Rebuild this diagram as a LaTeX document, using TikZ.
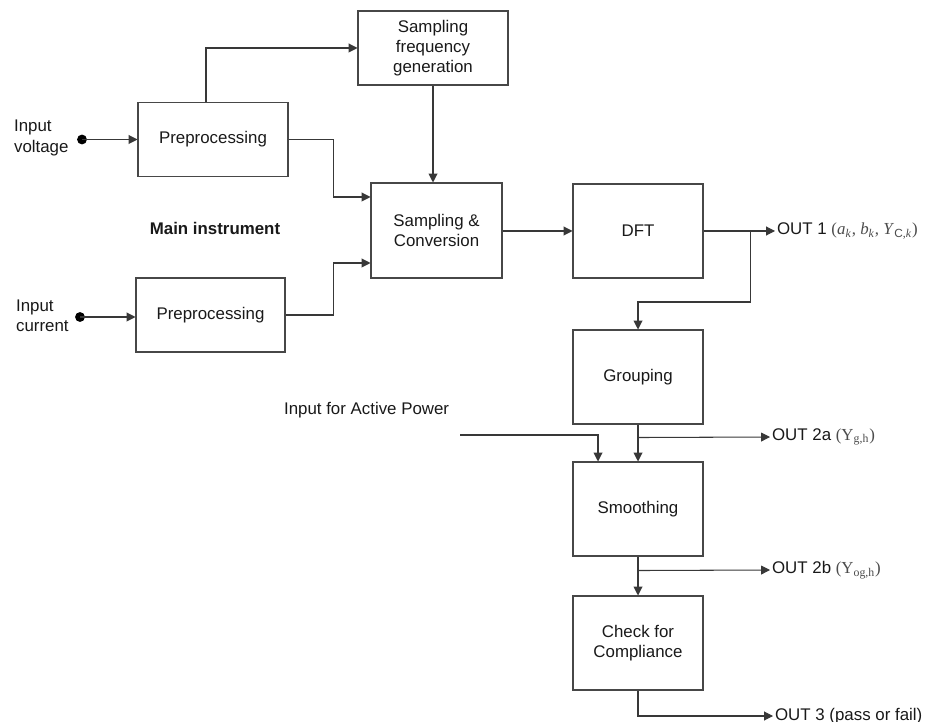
\documentclass[tikz,border=0pt]{standalone}
\usepackage{fontspec}
\setmainfont{Liberation Sans}
\newfontfamily\serifout{Liberation Serif}
\newfontfamily\sansout{Liberation Sans}
\usetikzlibrary{arrows.meta}
\usetikzlibrary{calc,positioning}

\begin{document}
\begin{tikzpicture}[x=0.02cm, y=-0.02cm,
    >={Triangle[length=5pt,width=5pt]},
    font=\fontsize{9.6}{11.5}\selectfont,
    block/.style={draw=black!72, line width=0.6pt, minimum width=2.6cm, minimum height=1.88cm,
        align=center, inner sep=1pt, text=black!90},
    wire/.style={->, draw=black!78, line width=0.6pt},
    label/.style={anchor=west, inner sep=1pt, text=black!90}]
    \useasboundingbox (0,0) rectangle (929,722);

    % blocks
    \node[block, minimum width=3cm, minimum height=1.48cm] (pre1) at (213,139.5) {Preprocessing};
    \node[block, minimum width=2.98cm, minimum height=1.48cm] (pre2) at (210.5,315) {Preprocessing};
    \node[block, minimum width=3cm, minimum height=1.48cm] (sfg) at (433,48) {Sampling\\frequency\\generation};
    \node[block, minimum width=2.62cm, minimum height=1.9cm] (sc) at (436.5,230.5) {Sampling \&\\Conversion};
    \node[block] (dft) at (638,231) {DFT};
    \node[block] (grp) at (638,377) {Grouping};
    \node[block] (smo) at (638,509) {Smoothing};
    \node[block] (chk) at (638,643) {Check for\\Compliance};

    % inputs
    \coordinate (vin) at (82,139.5);
    \coordinate (iin) at (80,317);
    \fill[black] (vin) circle (2.8pt);
    \fill[black] (iin) circle (2.8pt);
    \node[label, align=left] (vtxt) at (12,138) {Input\\voltage};
    \node[label, align=left] (itxt) at (14,316) {Input\\current};
    \node[font=\fontsize{9.6}{11.5}\bfseries, text=black!90] (main) at (215,228) {Main instrument};
    \draw[wire] (vin) -- (pre1.west |- vin);
    \draw[wire] (iin) -- (pre2.west |- iin);

    % main path
    \draw[wire] ($(pre1.north)+(-7,0)$) |- (sfg.west);
    \draw[wire] (pre1.east) -- ++(45,0) |- ($(sc.west)+(0,-33.5)$);
    \draw[wire] (pre2.east) -- ++(48,0) |- ($(sc.west)+(0,32.5)$);
    \draw[wire] (sfg.south) -- (sfg.south |- sc.north);
    \draw[wire] (sc.east |- dft.west) -- (dft.west);

    % outputs
    \coordinate (out1) at (775,231);
    \coordinate (out2a) at (770,437);
    \coordinate (out2b) at (770,570);
    \coordinate (out3) at (773,716);
    \draw[wire] (dft.east) -- (out1);
    \draw[wire] ($(dft.east)+(47,0)$) -- ++(0,71) -| (grp.north);
    \draw[wire] (grp.south) -- (smo.north);
    \draw[wire] ($(grp.south)+(0,13)$) -- (out2a);
    \draw[wire] (smo.south) -- (chk.north);
    \draw[wire] ($(smo.south)+(0,14)$) -- (out2b);
    \draw[wire] (chk.south) |- (out3);
    \node[label] (o1) at (out1) {OUT 1 {\serifout\color{black!70}(\textit{a}\textsubscript{\textit{k}}, \textit{b}\textsubscript{\textit{k}}, \textit{Y}\textsubscript{{\sansout C},\textit{k}})}};
    \node[label] (o2a) at (out2a) {OUT 2a {\serifout\color{black!70}(Y\textsubscript{g,h})}};
    \node[label] (o2b) at (out2b) {OUT 2b {\serifout\color{black!70}(Y\textsubscript{og,h})}};
    \node[label] (o3) at (out3) {OUT 3 (pass or fail)};

    % active power
    \node[label] (aptxt) at (282,410) {Input for Active Power};
    \coordinate (apin) at (460,435);
    \draw[wire] (apin) -| ($(smo.north)+(-40,0)$);
\end{tikzpicture}
\end{document}
